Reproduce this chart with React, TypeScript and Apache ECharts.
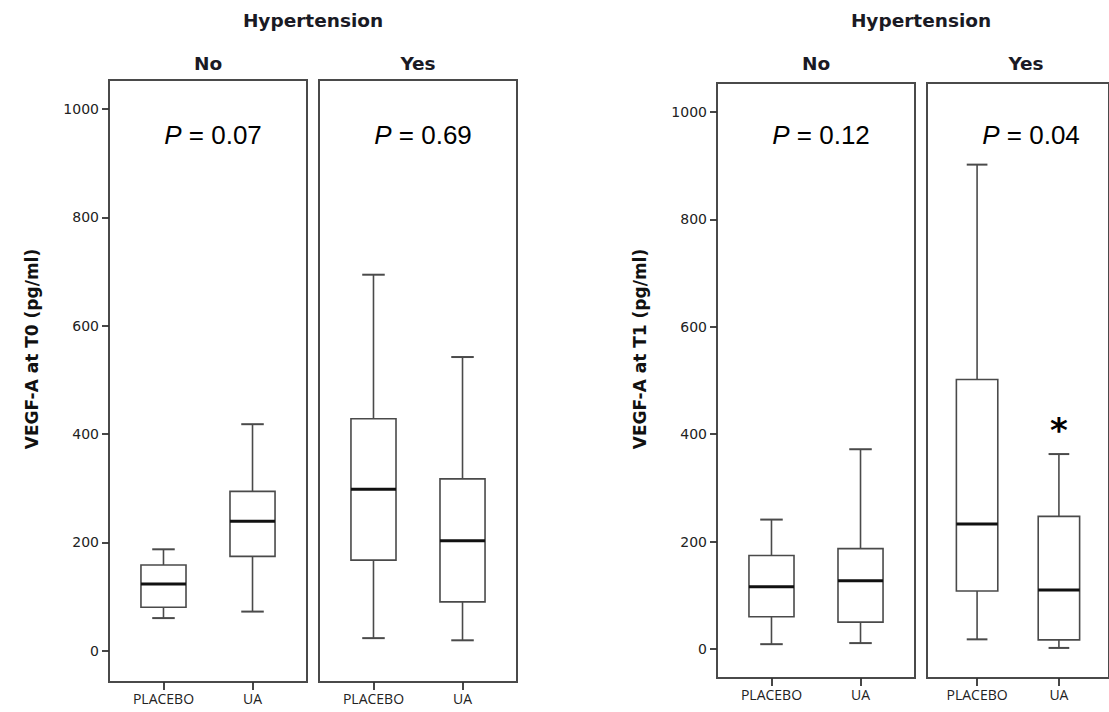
import React, { useEffect, useRef } from "react";
import * as echarts from "echarts";

// ---- data ----
const CATEGORIES = ["PLACEBO", "UA"];
const CATEGORY_POS = [1, 2];
const GROUPS = ["No", "Yes"];
const SUPER_TITLE = "Hypertension";
const Y_TITLES = ["VEGF-A at T0 (pg/ml)", "VEGF-A at T1 (pg/ml)"];
const Y_TICKS = [0, 200, 400, 600, 800, 1000];
// [min, Q1, median, Q3, max]
const T0_NO_PLACEBO = [60, 80, 123, 158, 187];
const T0_NO_UA = [72, 174, 239, 294, 418];
const T0_YES_PLACEBO = [23, 167, 298, 428, 694];
const T0_YES_UA = [19, 90, 203, 317, 542];
const T1_NO_PLACEBO = [9, 60, 116, 174, 241];
const T1_NO_UA = [11, 50, 127, 187, 372];
const T1_YES_PLACEBO = [18, 108, 233, 502, 902];
const T1_YES_UA = [2, 17, 110, 247, 363];
const P_VALUES = ["0.07", "0.69", "0.12", "0.04"];
const SIGNIFICANT = [[0, 0], [0, 0], [0, 0], [0, 1]];

// ---- layout ----
const PANEL_W = 198;
const panels = [
  { left: 109, top: 80, bottom: 682, ymin: -58, ymax: 1053.5, first: true, boxes: [T0_NO_PLACEBO, T0_NO_UA] },
  { left: 319, top: 80, bottom: 682, ymin: -58, ymax: 1053.5, first: false, boxes: [T0_YES_PLACEBO, T0_YES_UA] },
  { left: 717, top: 83, bottom: 678, ymin: -54, ymax: 1054, first: true, boxes: [T1_NO_PLACEBO, T1_NO_UA] },
  { left: 927, top: 83, bottom: 678, ymin: -54, ymax: 1054, first: false, boxes: [T1_YES_PLACEBO, T1_YES_UA] },
];

const STROKE = "#4a4a4a";
const TICK = "#333333";

function renderBox(params: any, api: any) {
  const x = api.value(0);
  const pMin = api.coord([x, api.value(1)]);
  const pQ1 = api.coord([x, api.value(2)]);
  const pMed = api.coord([x, api.value(3)]);
  const pQ3 = api.coord([x, api.value(4)]);
  const pMax = api.coord([x, api.value(5)]);
  const star = api.value(6);
  const halfW = api.size([0.506, 0])[0] / 2;
  const cx = pMed[0];
  const lineStyle = { stroke: STROKE, lineWidth: 1.6 };
  const children: any[] = [
    { type: "line", shape: { x1: cx, y1: pMax[1], x2: cx, y2: pQ3[1] }, style: lineStyle },
    { type: "line", shape: { x1: cx, y1: pQ1[1], x2: cx, y2: pMin[1] }, style: lineStyle },
    { type: "line", shape: { x1: cx - halfW / 2, y1: pMax[1], x2: cx + halfW / 2, y2: pMax[1] }, style: { stroke: STROKE, lineWidth: 2 } },
    { type: "line", shape: { x1: cx - halfW / 2, y1: pMin[1], x2: cx + halfW / 2, y2: pMin[1] }, style: { stroke: STROKE, lineWidth: 2 } },
    {
      type: "rect",
      shape: { x: cx - halfW, y: pQ3[1], width: halfW * 2, height: pQ1[1] - pQ3[1] },
      style: { fill: "#ffffff", stroke: STROKE, lineWidth: 1.6 },
    },
    { type: "line", shape: { x1: cx - halfW, y1: pMed[1], x2: cx + halfW, y2: pMed[1] }, style: { stroke: "#111111", lineWidth: 3 } },
  ];
  if (star) {
    children.push({
      type: "text",
      x: cx,
      y: pMax[1] - 24,
      style: { text: "*", fill: "#000", fontFamily: "DejaVu Sans", fontWeight: "bold", fontSize: 34, align: "center", verticalAlign: "middle" },
    });
  }
  return { type: "group", children };
}

export default function App() {
  const ref = useRef<HTMLDivElement>(null);
  useEffect(() => {
    if (!ref.current) return;
    const chart = echarts.init(ref.current, null, { renderer: "svg" });

    const grid = panels.map((p) => ({
      left: p.left,
      top: p.top,
      width: PANEL_W,
      height: p.bottom - p.top,
      show: true,
      borderColor: STROKE,
      borderWidth: 2,
      backgroundColor: "transparent",
    }));

    const xAxis = panels.map((p, i) => ({
      gridIndex: i,
      type: "value",
      min: CATEGORY_POS[0] - 0.612,
      max: CATEGORY_POS[1] + 0.612,
      axisLine: { show: true, onZero: false, lineStyle: { color: STROKE } },
      splitLine: { show: false },
      axisTick: { show: true, customValues: CATEGORY_POS, length: 8, lineStyle: { color: TICK, width: 1.8 } },
      axisLabel: {
        show: true,
        customValues: CATEGORY_POS,
        formatter: (v: number) => CATEGORIES[CATEGORY_POS.indexOf(Math.round(v))] ?? "",
        fontFamily: "Open Sans",
        fontSize: 14,
        color: "#222",
        margin: 9,
      },
    }));

    const yAxis = panels.map((p, i) => ({
      gridIndex: i,
      type: "value",
      min: p.ymin,
      max: p.ymax,
      axisLine: { show: true, lineStyle: { color: STROKE } },
      splitLine: { show: false },
      axisTick: { show: true, customValues: Y_TICKS, length: p.first ? 7 : 0, lineStyle: { color: TICK, width: 1.8, opacity: p.first ? 1 : 0 } },
      axisLabel: {
        show: p.first,
        customValues: Y_TICKS,
        formatter: (v: number) => String(v),
        fontFamily: "DejaVu Sans",
        fontSize: 14,
        color: "#222",
        margin: 10,
      },
    }));

    const series = panels.map((p, i) => ({
      type: "custom",
      xAxisIndex: i,
      yAxisIndex: i,
      renderItem: renderBox,
      encode: { x: 0, y: [1, 2, 3, 4, 5] },
      data: p.boxes.map((b, j) => [CATEGORY_POS[j], ...b, SIGNIFICANT[i][j]]),
    }));

    const graphics: any[] = [];
    const boldTitle = { fontFamily: "DejaVu Sans", fontWeight: "bold", fontSize: 18.5, fill: "#1a1a24", align: "center", verticalAlign: "middle" };
    [0, 2].forEach((pi, c) => {
      const a = panels[pi];
      const b = panels[pi + 1];
      const cx = (a.left + b.left + PANEL_W) / 2;
      graphics.push({ type: "text", x: cx, y: 20, style: { text: SUPER_TITLE, ...boldTitle } });
      graphics.push({
        type: "text",
        x: a.left - 77,
        y: 349,
        rotation: Math.PI / 2,
        style: { text: Y_TITLES[c], fontFamily: "DejaVu Sans", fontWeight: "bold", fontSize: 17, fill: "#111", align: "center", verticalAlign: "middle" },
      });
    });
    panels.forEach((p, i) => {
      const cx = p.left + PANEL_W / 2;
      graphics.push({ type: "text", x: cx, y: 63, style: { text: GROUPS[i % 2], ...boldTitle } });
      graphics.push({
        type: "text",
        x: cx + 5,
        y: 135,
        style: {
          text: "{i|P} = " + P_VALUES[i],
          fontFamily: "Liberation Sans",
          fontSize: 26,
          fill: "#000",
          align: "center",
          verticalAlign: "middle",
          rich: { i: { fontStyle: "italic", fontFamily: "Liberation Sans", fontSize: 26, fill: "#000" } },
        },
      });
    });

    chart.setOption({
      animation: false,
      backgroundColor: "#ffffff",
      grid,
      xAxis,
      yAxis,
      series,
      graphic: graphics,
    });
    return () => chart.dispose();
  }, []);

  return <div ref={ref} style={{ position: "absolute", left: 0, top: 0, width: 1109, height: 712 }} />;
}
